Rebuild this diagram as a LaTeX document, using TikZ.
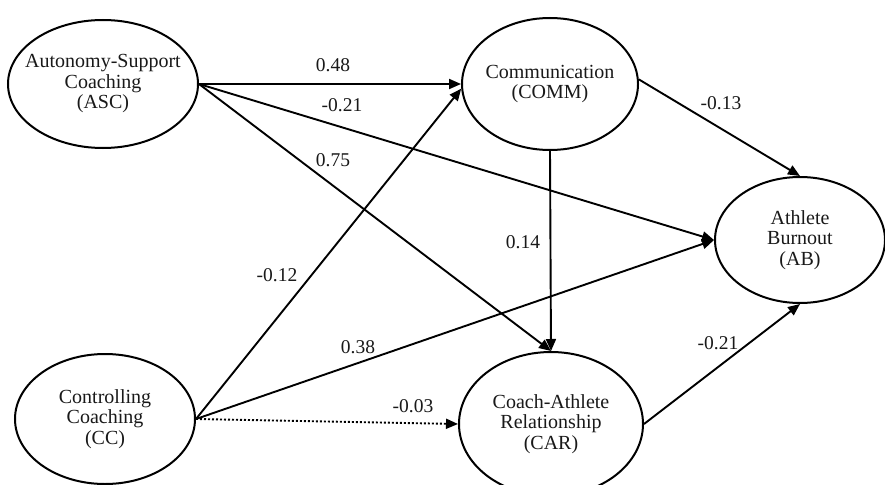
\documentclass[tikz,border=0pt]{standalone}
\usepackage{fontspec}
\setmainfont{Liberation Serif}
\usetikzlibrary{arrows.meta,shapes.geometric}
\begin{document}
\begin{tikzpicture}[x=1pt,y=-1pt,
  latent/.style={draw=black,line width=2pt,ellipse,inner sep=-40pt,align=center,
    font=\fontsize{20}{20.5}\selectfont,text=black!90},
  path/.style={line width=1.9pt,-{Triangle[length=12pt,width=10pt]}},
  dotpath/.style={path,dash pattern=on 2pt off 2pt},
  coef/.style={font=\fontsize{19.5}{20}\selectfont,text=black!90,inner sep=0pt}]
\useasboundingbox (0,0) rectangle (885,484);
\fill[white] (0,0) rectangle (885,484);
\node[latent,minimum width=190pt,minimum height=128pt] (ASC) at (103,84) {Autonomy-Support\\Coaching\\(ASC)};
\node[latent,minimum width=176pt,minimum height=132pt] (COMM) at (550,84) {Communication\\(COMM)};
\node[latent,minimum width=170pt,minimum height=126pt] (AB) at (800,240) {Athlete\\Burnout\\(AB)};
\node[latent,minimum width=180pt,minimum height=130pt] (CC) at (105,419) {Controlling\\Coaching\\(CC)};
\node[latent,minimum width=184pt,minimum height=144pt] (CAR) at (551,424) {Coach-Athlete\\Relationship\\(CAR)};
\draw[path] (ASC.east) -- (COMM.west);
\draw[path] (ASC.east) -- (AB.west);
\draw[path] (ASC.east) -- (CAR.north);
\draw[path] (CC.east) -- (COMM.183);
\draw[path] (CC.east) -- (AB.west);
\draw[dotpath] (CC.east) -- (CAR.west);
\draw[path] (COMM.3) -- (AB.north);
\draw[path] (COMM.south) -- (CAR.north);
\draw[path] (CAR.east) -- (AB.south);
\node[coef] (l1) at (333,65) {0.48};
\node[coef] (l2) at (342,105) {-0.21};
\node[coef] (l3) at (333,160) {0.75};
\node[coef] (l4) at (277,275) {-0.12};
\node[coef] (l5) at (358,347) {0.38};
\node[coef] (l6) at (413,406) {-0.03};
\node[coef] (l7) at (721,103) {-0.13};
\node[coef] (l8) at (523,242) {0.14};
\node[coef] (l9) at (718,343) {-0.21};
\end{tikzpicture}
\end{document}
